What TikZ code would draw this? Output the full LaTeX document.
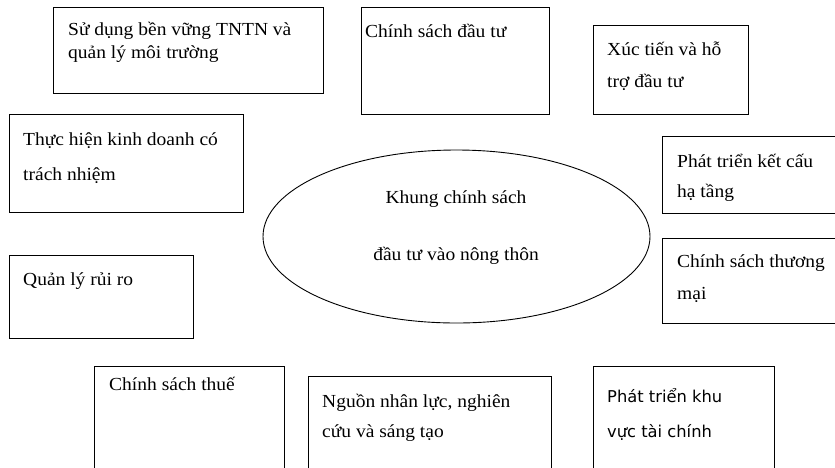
\documentclass[tikz,border=0pt]{standalone}
\usepackage{fontspec}
\usepackage{tikz}
\usetikzlibrary{shapes.geometric}
\newfontfamily\tnr[FakeStretch=1.06]{Liberation Serif}
\newfontfamily\tah{DejaVu Sans}
\tikzset{
    box/.style={draw, line width=0.9pt, inner sep=0pt},
    txt/.style={font={\tnr\fontsize{18.4}{#1}\selectfont}, align=left, anchor=base west, inner sep=0pt},
    txt/.default=23
}

\begin{document}
\begin{tikzpicture}[x=1pt, y=-1pt]
    \useasboundingbox (0,0) rectangle (835,467);
    \clip (0,0) rectangle (835,467);
    %Centre
    \node[box, ellipse, minimum width=387, minimum height=173] (khung) at (456.5,236.5) {};
    \node[txt=57, align=center, anchor=base] (khungtxt) at (456,260) {Khung chính sách\\đầu tư vào nông thôn};
    %Boxes
    \node[box, minimum width=270, minimum height=86] (tntn) at (188,50) {};
    \node[box, minimum width=188, minimum height=107] (dautu) at (455,60.5) {};
    \node[box, minimum width=155, minimum height=89] (xuctien) at (670.5,69.5) {};
    \node[box, minimum width=234, minimum height=98] (kinhdoanh) at (126,163) {};
    \node[box, minimum width=208, minimum height=77] (hatang) at (766,174.5) {};
    \node[box, minimum width=184, minimum height=83] (ruiro) at (101,296.5) {};
    \node[box, minimum width=208, minimum height=85] (thuongmai) at (766,280.5) {};
    \node[box, minimum width=190, minimum height=134] (thue) at (189,433) {};
    \node[box, minimum width=243, minimum height=124] (nhanluc) at (429.5,438) {};
    \node[box, minimum width=181, minimum height=140] (taichinh) at (683.5,436) {};
    %Labels (anchored at the last line)
    \node[txt=23] (tntntxt) at (68,58) {Sử dụng bền vững TNTN và\\quản lý môi trường};
    \node[txt] (daututxt) at (365,37) {Chính sách đầu tư};
    \node[txt=32] (xuctientxt) at (607,87) {Xúc tiến và hỗ\\trợ đầu tư};
    \node[txt=35] (kinhdoanhtxt) at (23,180) {Thực hiện kinh doanh có\\trách nhiệm};
    \node[txt=30] (hatangtxt) at (677,197) {Phát triển kết cấu\\hạ tầng};
    \node[txt] (ruirotxt) at (23,285) {Quản lý rủi ro};
    \node[txt=32] (thuongmaitxt) at (677,299) {Chính sách thương\\mại};
    \node[txt] (thuetxt) at (109,390) {Chính sách thuế};
    \node[txt=30] (nhanluctxt) at (322,437) {Nguồn nhân lực, nghiên\\cứu và sáng tạo};
    \node[txt=35, font={\tah\fontsize{16.3}{35}\selectfont}] (taichinhtxt) at (607,437) {Phát triển khu\\vực tài chính};
\end{tikzpicture}
\end{document}
